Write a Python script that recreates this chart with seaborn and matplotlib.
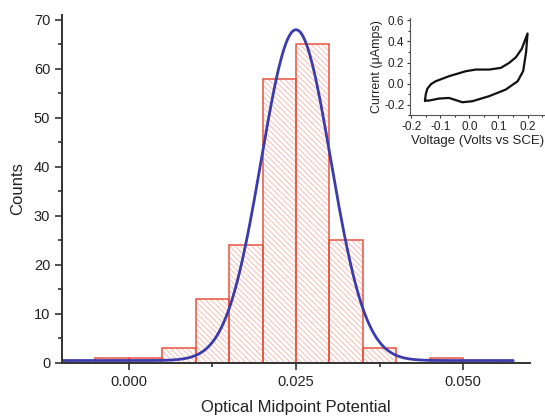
import numpy as np
import pandas as pd
import matplotlib
matplotlib.use("Agg")
import matplotlib.pyplot as plt
import seaborn as sns
from matplotlib.ticker import MultipleLocator, FormatStrFormatter

# Histogram of optical midpoint potentials
bin_edges = [-0.005, 0.000, 0.005, 0.010, 0.015, 0.020, 0.025, 0.030, 0.035, 0.040, 0.045, 0.050]
counts = [1, 1, 3, 13, 24, 58, 65, 25, 3, 0, 1]

# Gaussian fit parameters
fit_center = 0.025
fit_sigma = 0.0052
fit_amp = 67.5
fit_offset = 0.5
fit_range = (-0.010, 0.0575)

# Cyclic voltammogram (inset): forward and reverse sweeps
cv_voltage = [-0.153, -0.150, -0.145, -0.132, -0.116, -0.070, -0.013, 0.022, 0.068, 0.108, 0.137,
              0.160, 0.180, 0.200,
              0.195, 0.185, 0.166, 0.125, 0.068, 0.010, -0.024, -0.070, -0.105, -0.139, -0.153]
cv_current = [-0.162, -0.100, -0.050, -0.005, 0.022, 0.070, 0.117, 0.133, 0.133, 0.149, 0.197,
              0.250, 0.330, 0.476,
              0.300, 0.120, 0.022, -0.057, -0.120, -0.168, -0.178, -0.137, -0.143, -0.162, -0.162]

sns.set_theme(style="ticks")
plt.rcParams["font.family"] = ["Liberation Sans", "DejaVu Sans"]
plt.rcParams["hatch.linewidth"] = 0.7

fig = plt.figure(figsize=(5.45, 4.17), dpi=100)
ax = fig.add_axes([0.1138, 0.1295, 0.8587, 0.8345])

centers = [(a + b) / 2 for a, b in zip(bin_edges[:-1], bin_edges[1:])]
hist_df = pd.DataFrame({"potential": centers, "count": counts})

# hatched fill
sns.histplot(data=hist_df, x="potential", weights="count", bins=bin_edges, ax=ax,
             fill=True, color="white", linewidth=0, alpha=1)
n_fill = len(ax.patches)
for p in ax.patches:
    p.set_hatch("\\\\\\\\\\\\")
    p.set_facecolor("white")
    p.set_edgecolor("#f6bdb3")
    p.set_linewidth(0)
# red outlines
sns.histplot(data=hist_df, x="potential", weights="count", bins=bin_edges, ax=ax,
             fill=True, alpha=1, linewidth=1.1)
for p in ax.patches[n_fill:]:
    p.set_facecolor("none")
    p.set_edgecolor("#e8533f")
    p.set_linewidth(1.1)

xf = np.linspace(fit_range[0], fit_range[1], 400)
yf = fit_offset + fit_amp * np.exp(-(xf - fit_center) ** 2 / (2 * fit_sigma ** 2))
sns.lineplot(x=xf, y=yf, ax=ax, color="#3b3bab", linewidth=2.0)

ax.set_xlim(-0.010, 0.060)
ax.set_ylim(0, 71)
ax.xaxis.set_major_locator(MultipleLocator(0.025))
ax.xaxis.set_minor_locator(MultipleLocator(0.0125))
ax.xaxis.set_major_formatter(FormatStrFormatter("%.3f"))
ax.yaxis.set_major_locator(MultipleLocator(10))
ax.yaxis.set_minor_locator(MultipleLocator(5))
ax.tick_params(axis="both", which="major", direction="out", length=5, width=1.2,
               labelsize=10.5, color="#333333", labelcolor="#222222")
ax.tick_params(axis="both", which="minor", direction="out", length=3, width=1.2, color="#333333")
for s in ["top", "right"]:
    ax.spines[s].set_visible(False)
for s in ["left", "bottom"]:
    ax.spines[s].set_color("#333333")
    ax.spines[s].set_linewidth(1.4)
ax.set_xlabel("Optical Midpoint Potential", fontsize=12, color="#222222", labelpad=8)
ax.set_ylabel("Counts", fontsize=12, color="#222222", labelpad=6)

# inset: cyclic voltammogram
ins = fig.add_axes([0.752, 0.724, 0.248, 0.232])
sns.lineplot(x=cv_voltage, y=cv_current, ax=ins, sort=False, estimator=None,
             color="#111111", linewidth=1.6)
ins.set_xlim(-0.205, 0.26)
ins.set_ylim(-0.3, 0.62)
ins.xaxis.set_major_locator(MultipleLocator(0.1))
ins.xaxis.set_minor_locator(MultipleLocator(0.05))
ins.yaxis.set_major_locator(MultipleLocator(0.2))
ins.yaxis.set_minor_locator(MultipleLocator(0.1))
ins.xaxis.set_major_formatter(FormatStrFormatter("%.1f"))
ins.yaxis.set_major_formatter(FormatStrFormatter("%.1f"))
ins.tick_params(axis="both", which="major", direction="out", length=2.5, width=0.8,
                labelsize=8.5, pad=1.5, color="#333333", labelcolor="#222222")
ins.tick_params(axis="both", which="minor", direction="out", length=1.5, width=0.8, color="#333333")
ins.set_facecolor("none")
for s in ["top", "right"]:
    ins.spines[s].set_visible(False)
for s in ["left", "bottom"]:
    ins.spines[s].set_color("#555555")
    ins.spines[s].set_linewidth(0.8)
ins.set_xlabel("Voltage (Volts vs SCE)", fontsize=9.5, color="#222222", labelpad=2)
ins.set_ylabel("Current (\u03bcAmps)", fontsize=9, color="#222222", labelpad=1)

fig.savefig("out.png", dpi=100, facecolor="white")
